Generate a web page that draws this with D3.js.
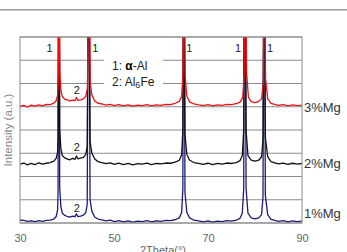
<!DOCTYPE html>
<html>
<head>
  <meta charset="utf-8">
  <title>XRD Mg</title>
  <script src="https://d3js.org/d3.v7.min.js"></script>
  <style>
  body { margin: 0; background: white; }
  text { font-family: 'Liberation Sans', Arial, sans-serif; }
  </style>
</head>
<body>
  <div id='container'></div>
  <script>

  var xTicks = [30, 50, 70, 90]
  var yGrid = [0, 1000, 2000, 3000, 4000, 5000, 6000, 7000, 8000]

  var seriesNames = ['1%Mg', '2%Mg', '3%Mg']
  var seriesColors = ['#1c1c78', '#111111', '#f01010']
  var seriesLabelY = [430, 2580, 4990]

  var mg1 = [
  [30,130],[30.8,110],[31.6,70],[32.4,90],[33.2,60],[34,100],[34.8,70],[35.6,110],[36.4,120],[37.2,170],[37.7,280],[38.0,560],[38.1,1300],[38.2,9800],[38.35,9800],[38.45,1500],[38.7,700],[39.0,420],[39.5,330],[40.0,290],[40.6,250],[41.2,300],[41.7,270],[42.0,400],[42.3,280],[42.9,300],[43.5,340],[44.0,450],[44.3,800],[44.5,9800],[44.75,9800],[44.9,1000],[45.3,500],[45.9,260],[46.6,170],[47.4,130],[48.3,90],[49.2,120],[50.1,60],[51,100],[52,50],[53,90],[54,40],[55,80],[56,60],[57,100],[58,50],[59,90],[60,70],[61,110],[62,100],[63,140],[63.9,220],[64.4,450],[64.65,1500],[64.75,9800],[64.95,9800],[65.1,1300],[65.5,450],[66.1,220],[67,120],[68,90],[69,50],[70,90],[71,40],[72,80],[73,60],[74,100],[75,80],[76,120],[76.8,200],[77.3,420],[77.6,1500],[77.7,9800],[77.95,9800],[78.1,1500],[78.5,420],[79.2,220],[80,180],[80.8,220],[81.4,360],[81.7,1100],[81.85,9800],[82.05,9800],[82.2,1200],[82.7,360],[83.4,160],[84.2,110],[85,70],[86,100],[87,50],[88,90],[89,60],[90,80]
  ]

  var mg2 = [
  [30,2530],[30.8,2580],[31.6,2500],[32.4,2560],[33.2,2510],[34,2590],[34.8,2530],[35.6,2570],[36.4,2600],[37.2,2660],[37.7,2780],[38.0,3050],[38.1,3800],[38.2,9800],[38.35,9800],[38.45,4000],[38.7,3200],[39.0,2900],[39.5,2800],[40.0,2760],[40.6,2720],[41.2,2780],[41.7,2740],[42.0,2880],[42.3,2760],[42.9,2790],[43.5,2820],[44.0,2950],[44.3,3300],[44.5,9800],[44.75,9800],[44.9,3500],[45.3,3000],[45.9,2750],[46.6,2640],[47.4,2600],[48.3,2550],[49.2,2590],[50.1,2520],[51,2570],[52,2510],[53,2560],[54,2500],[55,2550],[56,2530],[57,2580],[58,2510],[59,2560],[60,2540],[61,2580],[62,2570],[63,2620],[63.9,2700],[64.4,2950],[64.65,4000],[64.75,9800],[64.95,9800],[65.1,3800],[65.5,2950],[66.1,2700],[67,2600],[68,2560],[69,2520],[70,2570],[71,2510],[72,2560],[73,2530],[74,2580],[75,2560],[76,2600],[76.8,2680],[77.3,2900],[77.6,4000],[77.7,9800],[77.95,9800],[78.1,4000],[78.5,2900],[79.2,2700],[80,2660],[80.8,2700],[81.4,2850],[81.7,3600],[81.85,9800],[82.05,9800],[82.2,3700],[82.7,2850],[83.4,2640],[84.2,2590],[85,2540],[86,2580],[87,2520],[88,2570],[89,2530],[90,2560]
  ]

  var mg3 = [
  [30,5020],[30.8,5060],[31.6,4990],[32.4,5070],[33.2,5030],[34,5080],[34.8,5040],[35.6,5100],[36.4,5090],[37.2,5160],[37.7,5260],[38.0,5500],[38.15,6200],[38.25,9800],[38.4,9800],[38.5,6400],[38.7,5700],[39.0,5450],[39.5,5330],[40.0,5300],[40.6,5250],[41.2,5290],[41.7,5260],[42.0,5400],[42.3,5280],[42.9,5300],[43.5,5340],[44.0,5450],[44.35,5800],[44.55,9800],[44.8,9800],[44.95,6000],[45.3,5500],[45.9,5250],[46.6,5150],[47.4,5120],[48.3,5070],[49.2,5100],[50.1,5050],[51,5090],[52,5040],[53,5080],[54,5030],[55,5070],[56,5050],[57,5090],[58,5040],[59,5080],[60,5060],[61,5100],[62,5090],[63,5150],[63.9,5230],[64.4,5450],[64.7,6500],[64.8,9800],[65.0,9800],[65.15,6300],[65.5,5450],[66.1,5210],[67,5120],[68,5080],[69,5050],[70,5090],[71,5040],[72,5080],[73,5060],[74,5100],[75,5090],[76,5130],[76.8,5200],[77.4,5400],[77.7,6500],[77.8,9800],[78.05,9800],[78.2,6500],[78.6,5400],[79.2,5220],[80,5180],[80.8,5230],[81.4,5350],[81.75,6000],[81.9,9800],[82.1,9800],[82.25,6200],[82.7,5350],[83.4,5150],[84.2,5100],[85,5060],[86,5090],[87,5040],[88,5080],[89,5050],[90,5070]
  ]

  // peak labels: [2theta, intensity, text]
  var peakLabels = [
  [36.3, 7500, '1'], [46.0, 7500, '1'], [66.0, 7500, '1'], [76.4, 7500, '1'], [83.2, 7500, '1'],
  [42.1, 5720, '2'], [42.1, 3270, '2'], [42.1, 645, '2']
  ]

  const width = 347
  const height = 252
  var plotLeft = 20, plotRight = 302, plotTop = 37, plotBottom = 223

  var svg = d3.select('#container')
    .append('svg')
    .attr('width', width)
    .attr('height', height)

  var xScale = d3.scaleLinear().domain([30, 90]).range([plotLeft, plotRight])
  var yScale = d3.scaleLinear().domain([0, 8000]).range([plotBottom, plotTop])

  // header rule
  svg.append('rect')
    .attr('x', 0).attr('y', 9)
    .attr('width', width).attr('height', 1.5)
    .style('fill', '#9a9a9a')

  svg.append('clipPath').attr('id', 'plotClip')
    .append('rect')
    .attr('x', plotLeft).attr('y', plotTop)
    .attr('width', plotRight - plotLeft).attr('height', plotBottom - plotTop)

  svg.append('g')
    .selectAll('line')
    .data(yGrid)
    .enter()
    .append('line')
    .attr('x1', plotLeft).attr('x2', plotRight)
    .attr('y1', (d) => yScale(d)).attr('y2', (d) => yScale(d))
    .style('stroke', '#8c8c8c')
    .style('stroke-width', 1)

  // legend box covers grid
  svg.append('rect')
    .attr('x', 104).attr('y', 56)
    .attr('width', 59).attr('height', 34)
    .style('fill', 'white')

  var legend = svg.append('g').style('font-size', '12px').style('fill', '#222')
  legend.append('text').attr('x', 112).attr('y', 70)
    .html('1: <tspan font-weight="bold" fill="#000">α</tspan>-Al')
  legend.append('text').attr('x', 112).attr('y', 86)
    .html('2: Al<tspan font-size="9px" dy="2">6</tspan><tspan dy="-2">Fe</tspan>')

  var line = d3.line()
    .x((d) => xScale(d[0]))
    .y((d) => yScale(d[1]))

  var allSeries = [mg1, mg2, mg3]

  svg.append('g')
    .attr('clip-path', 'url(#plotClip)')
    .selectAll('path')
    .data(allSeries)
    .enter()
    .append('path')
    .attr('d', (d) => line(d))
    .style('fill', 'none')
    .style('stroke', (d, i) => seriesColors[i])
    .style('stroke-width', 1.3)
    .style('stroke-linejoin', 'round')

  svg.append('rect')
    .attr('x', plotLeft).attr('y', plotTop)
    .attr('width', plotRight - plotLeft).attr('height', plotBottom - plotTop)
    .style('fill', 'none')
    .style('stroke', '#8c8c8c')
    .style('stroke-width', 1)

  svg.append('g')
    .selectAll('text')
    .data(peakLabels)
    .enter()
    .append('text')
    .attr('x', (d) => xScale(d[0]))
    .attr('y', (d) => yScale(d[1]))
    .attr('text-anchor', 'middle')
    .attr('dy', '0.35em')
    .style('font-size', '11px')
    .style('fill', '#222')
    .text((d) => d[2])

  svg.append('g')
    .selectAll('text')
    .data(seriesNames)
    .enter()
    .append('text')
    .attr('x', plotRight + 2)
    .attr('y', (d, i) => yScale(seriesLabelY[i]))
    .attr('dy', '0.35em')
    .style('font-size', '13px')
    .style('fill', '#333')
    .text((d) => d)

  var xAxis = d3.axisBottom(xScale)
    .tickValues(xTicks)
    .tickSize(0)
    .tickPadding(11)

  var gx = svg.append('g')
    .attr('transform', 'translate(0,' + plotBottom + ')')
    .call(xAxis)
  gx.select('.domain').remove()
  gx.selectAll('text')
    .style('font-size', '11px')
    .style('font-family', "'Liberation Sans', Arial, sans-serif")
    .style('fill', '#666')

  svg.append('text')
    .attr('x', 163).attr('y', 254)
    .attr('text-anchor', 'middle')
    .style('font-size', '11px')
    .style('fill', '#666')
    .text('2Theta(°)')

  svg.append('text')
    .attr('transform', 'translate(12,' + ((plotTop + plotBottom) / 2) + ') rotate(-90)')
    .attr('text-anchor', 'middle')
    .style('font-size', '11.5px')
    .style('fill', '#888')
    .text('Intensity (a.u.)')

  </script>
</body>
</html>
